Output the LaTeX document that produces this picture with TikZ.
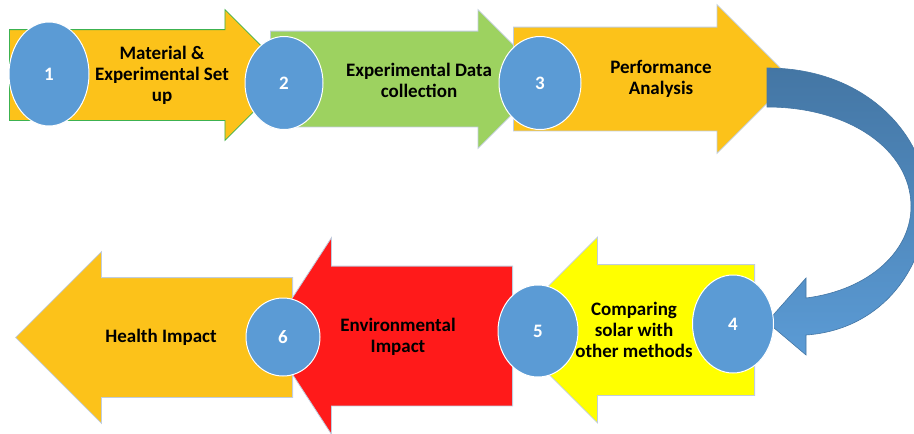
\documentclass[tikz,border=0pt]{standalone}
\usepackage{fontspec}
\setmainfont{Carlito}
\usetikzlibrary{shapes.arrows, shapes.geometric}

\definecolor{stepgold}{RGB}{252,194,26}
\definecolor{stepgreen}{RGB}{157,210,96}
\definecolor{stepred}{RGB}{255,26,26}
\definecolor{stepyellow}{RGB}{255,255,0}
\definecolor{numblue}{RGB}{91,155,213}
\definecolor{edgegray}{RGB}{192,205,222}
\definecolor{greenline}{RGB}{60,178,80}
\definecolor{curvedark}{RGB}{68,118,164}
\definecolor{curvelight}{RGB}{91,155,213}

\begin{document}
\begin{tikzpicture}[
    x=1pt, y=-1pt,
    % --- styles ---
    % body half width goes in inner ysep, length in minimum height
    stepblock/.style={
        single arrow, draw=edgegray, line width=0.8pt, inner xsep=0pt,
        single arrow head indent=0pt, single arrow tip angle=90, anchor=tail
    },
    numnode/.style={
        ellipse, draw=white, line width=1pt, fill=numblue, inner sep=0pt,
        text=white, font=\bfseries\fontsize{19}{21}\selectfont
    },
    steptext/.style={
        align=center, font=\bfseries\fontsize{19}{21}\selectfont
    }
    ]

    \useasboundingbox (0,0) rectangle (914,434);

    % ==========================================
    % Top row (left to right)
    % ==========================================
    \node [stepblock, fill=stepgold, draw=greenline, minimum height=281pt,
           inner ysep=45pt, single arrow head extend=20pt] (arrow1) at (9,75) {};
    \node [stepblock, fill=stepgreen, minimum height=277pt,
           inner ysep=47.5pt, single arrow head extend=21.5pt] (arrow2) at (270,79) {};
    \node [stepblock, fill=stepgold, minimum height=278pt,
           inner ysep=51.5pt, single arrow head extend=22.5pt] (arrow3) at (513,79) {};

    % ==========================================
    % Bottom row (right to left)
    % ==========================================
    \node [stepblock, fill=stepgold, shape border rotate=180, minimum height=277pt,
           inner ysep=59.5pt, single arrow head extend=26pt] (arrow6) at (293,337.5) {};
    \node [stepblock, fill=stepred, shape border rotate=180, minimum height=245pt,
           inner ysep=69.5pt, single arrow head extend=28.5pt,
           single arrow tip angle=114] (arrow5) at (513,336) {};
    \node [stepblock, fill=stepyellow, shape border rotate=180, minimum height=250pt,
           inner ysep=65pt, single arrow head extend=27.5pt] (arrow4) at (755,330) {};

    % Curved arrow linking 3 and 4
    \coordinate (bendstart) at (767,68);
    \coordinate (bendtip) at (767,322);
    \shade [top color=curvedark, bottom color=curvelight, draw=curvedark, line width=0.6pt]
        (bendstart) .. controls (870,68) and (927,140) .. (927,200)
        .. controls (927,270) and (880,330) .. (806,335)
        -- (806,355) -- (bendtip) -- (806,278) -- (806,298)
        .. controls (870,290) and (912,250) .. (911,205)
        .. controls (910,150) and (850,107) .. (767,107) -- cycle;

    % ==========================================
    % Numbered markers
    % ==========================================
    \node [numnode, minimum width=80pt, minimum height=104pt] (num1) at (49,74) {1};
    \node [numnode, minimum width=78pt, minimum height=93pt] (num2) at (284,83) {2};
    \node [numnode, minimum width=82pt, minimum height=93pt] (num3) at (540,83) {3};
    \node [numnode, minimum width=81pt, minimum height=98pt] (num4) at (733,324) {4};
    \node [numnode, minimum width=80pt, minimum height=92pt] (num5) at (538,331) {5};
    \node [numnode, minimum width=74pt, minimum height=78pt] (num6) at (283,337) {6};

    % ==========================================
    % Step labels
    % ==========================================
    \node [steptext] (text1) at (162,75) {Material \&\\Experimental Set\\up};
    \node [steptext] (text2) at (419,80) {Experimental Data\\collection};
    \node [steptext] (text3) at (661,79) {Performance\\Analysis};
    \node [steptext] (text4) at (634,330) {Comparing\\solar with\\other methods};
    \node [steptext] (text5) at (398,337) {Environmental\\Impact};
    \node [steptext] (text6) at (161,337) {Health Impact};
\end{tikzpicture}
\end{document}
